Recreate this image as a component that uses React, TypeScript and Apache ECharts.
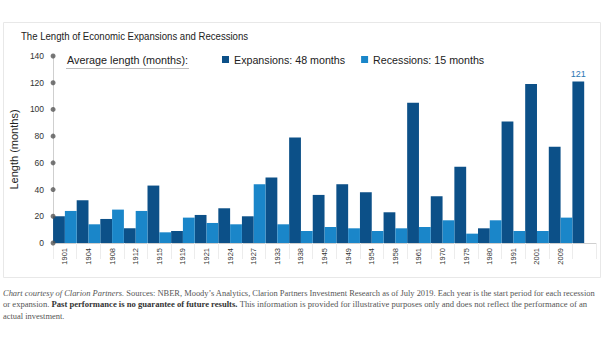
import React, { useEffect, useRef } from 'react';
import * as echarts from 'echarts';

const categories = ['1901', '1904', '1908', '1912', '1915', '1919', '1921', '1924', '1927', '1933', '1938', '1945', '1949', '1954', '1958', '1961', '1970', '1975', '1980', '1991', '2001', '2009', ''];
const expansions = [20, 32, 18, 11, 43, 9, 21, 26, 20, 49, 79, 36, 44, 38, 23, 105, 35, 57, 11, 91, 119, 72, 121];
const recessions: (number | null)[] = [24, 14, 25, 24, 8, 19, 15, 14, 44, 14, 9, 12, 11, 9, 11, 12, 17, 7, 17, 9, 9, 19, null];
const yTicks = [0, 20, 40, 60, 80, 100, 120, 140];
const seriesNames = ['Expansions: 48 months', 'Recessions: 15 months'];
const title = 'The Length of Economic Expansions and Recessions';
const legendLead = 'Average length (months):';
const yName = 'Length (months)';
const foot1 = '{i|Chart courtesy of Clarion Partners.} Sources: NBER, Moody\u2019s Analytics, Clarion Partners Investment Research as of July 2019. Each year is the start period for each recession';
const foot2 = 'or expansion. {b|Past performance is no guarantee of future results.} This information is provided for illustrative purposes only and does not reflect the performance of an';
const foot3 = 'actual investment.';

const DARK = '#0c5088';
const LIGHT = '#1a86c9';

export default function App() {
  const ref = useRef<HTMLDivElement>(null);
  useEffect(() => {
    if (!ref.current) return;
    const chart = echarts.init(ref.current, undefined, { renderer: 'svg' });
    const lastIdx = expansions.length - 1;
    const FS = 8.45;
    const footStyle = {
      fontFamily: '"Liberation Serif", "Times New Roman", serif',
      fontSize: FS,
      fill: '#555',
      rich: {
        i: { fontStyle: 'italic', fontFamily: '"Liberation Serif", serif', fontSize: FS, fill: '#555' },
        b: { fontWeight: 'bold', fontFamily: '"Liberation Serif", serif', fontSize: FS, fill: '#333' },
      },
    };
    chart.setOption({
      animation: false,
      backgroundColor: '#fff',
      grid: { left: 47, right: 9, top: 56, bottom: 98, containLabel: false },
      legend: {
        left: 217,
        top: 49,
        icon: 'rect',
        itemWidth: 7,
        itemHeight: 7,
        itemGap: 16,
        data: seriesNames,
        textStyle: { fontFamily: '"Liberation Sans", Arial, sans-serif', fontSize: 10.7, color: '#222' },
        selectedMode: false,
      },
      xAxis: [
        {
          type: 'category',
          data: categories,
          boundaryGap: true,
          axisLine: { show: true, lineStyle: { color: '#cfcfcf', width: 1 } },
          axisTick: { show: true, length: 16, lineStyle: { color: '#ececec' } },
          axisLabel: {
            rotate: 90,
            interval: 0,
            margin: 5,
            fontSize: 7.5,
            color: '#333',
            fontFamily: '"Liberation Sans", Arial, sans-serif',
          },
        },
        { type: 'value', min: 0, max: 1, show: false },
      ],
      yAxis: {
        type: 'value',
        min: 0,
        max: 140,
        interval: 20,
        name: yName,
        nameLocation: 'middle',
        nameGap: 23,
        nameTextStyle: { fontFamily: '"Liberation Sans", Arial, sans-serif', fontSize: 11, color: '#222' },
        axisLine: { show: true, lineStyle: { color: '#cfcfcf', width: 1 } },
        axisTick: { show: false },
        splitLine: { show: false },
        axisLabel: {
          margin: 9,
          fontSize: 8.5,
          color: '#333',
          fontFamily: '"Liberation Sans", Arial, sans-serif',
        },
      },
      series: [
        {
          name: seriesNames[0],
          type: 'bar',
          xAxisIndex: 0,
          barGap: '0%',
          barCategoryGap: '0%',
          itemStyle: { color: DARK },
          data: expansions.map((v, i) =>
            i === lastIdx
              ? {
                  value: v,
                  label: {
                    show: true,
                    position: 'top',
                    distance: 3,
                    color: '#2b78b4',
                    fontSize: 9,
                    fontFamily: '"Liberation Sans", Arial, sans-serif',
                  },
                }
              : v
          ),
        },
        {
          name: seriesNames[1],
          type: 'bar',
          xAxisIndex: 0,
          barGap: '0%',
          barCategoryGap: '0%',
          itemStyle: { color: LIGHT },
          data: recessions,
        },
        {
          type: 'scatter',
          xAxisIndex: 1,
          symbol: 'circle',
          symbolSize: 5,
          clip: false,
          z: 10,
          itemStyle: { color: '#555' },
          data: yTicks.map((t) => [0, t]),
          silent: true,
        },
      ],
      graphic: [
        {
          type: 'rect',
          shape: { x: 3.5, y: 22.5, width: 597, height: 255 },
          style: { fill: 'none', stroke: '#e8e8e8', lineWidth: 1 },
          silent: true,
          z: -1,
        },
        {
          type: 'text',
          x: 21,
          y: 36,
          scaleX: 0.835,
          style: {
            text: title,
            fontFamily: '"Liberation Sans", Arial, sans-serif',
            fontSize: 11.5,
            fill: '#222',
            verticalAlign: 'middle',
          },
        },
        {
          type: 'text',
          x: 67,
          y: 60,
          style: {
            text: legendLead,
            fontFamily: '"Liberation Sans", Arial, sans-serif',
            fontSize: 10.8,
            fill: '#222',
            verticalAlign: 'middle',
          },
        },
        {
          type: 'line',
          shape: { x1: 66, y1: 68.5, x2: 189, y2: 68.5 },
          style: { stroke: '#bdbdbd', lineWidth: 1 },
        },
        { type: 'text', x: 3, y: 293, style: { text: foot1, verticalAlign: 'middle', ...footStyle } },
        { type: 'text', x: 3, y: 304.3, scaleX: 1.02, style: { text: foot2, verticalAlign: 'middle', ...footStyle } },
        { type: 'text', x: 3, y: 315.6, style: { text: foot3, verticalAlign: 'middle', ...footStyle } },
      ],
    });
    return () => chart.dispose();
  }, []);
  return <div ref={ref} style={{ position: 'fixed', left: 0, top: 0, width: 605, height: 341 }} />;
}
